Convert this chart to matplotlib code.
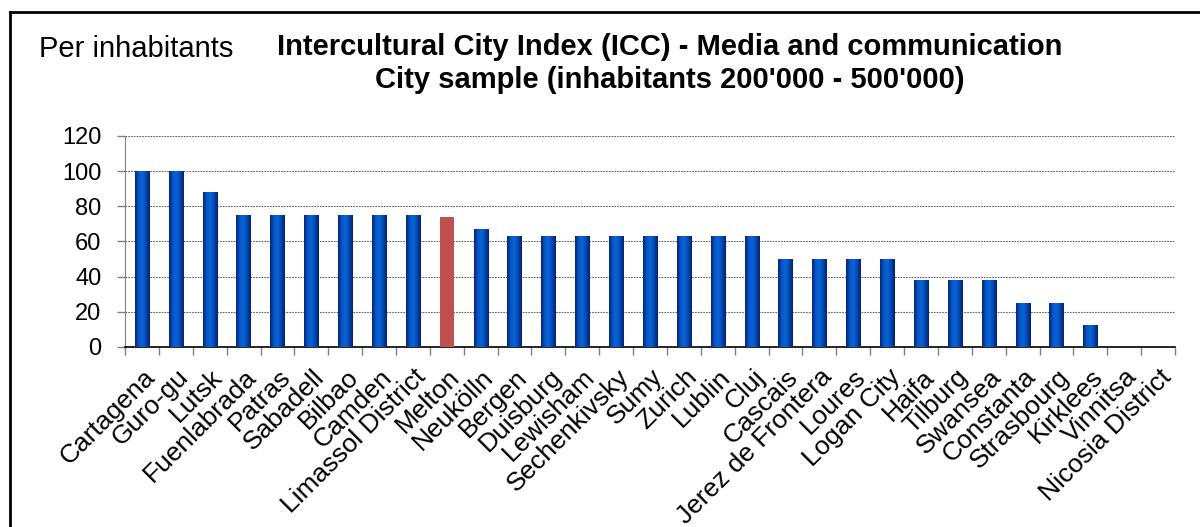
import numpy as np
import matplotlib
matplotlib.use("Agg")
import matplotlib.pyplot as plt
from matplotlib.colors import LinearSegmentedColormap
from matplotlib.lines import Line2D

plt.rcParams['font.family'] = ['Liberation Sans', 'DejaVu Sans']

cities = ["Cartagena", "Guro-gu", "Lutsk", "Fuenlabrada", "Patras", "Sabadell",
          "Bilbao", "Camden", "Limassol District", "Melton", "Neukölln", "Bergen",
          "Duisburg", "Lewisham", "Sechenkivsky", "Sumy", "Zurich", "Lublin", "Cluj",
          "Cascais", "Jerez de Frontera", "Loures", "Logan City", "Haifa", "Tilburg",
          "Swansea", "Constanta", "Strasbourg", "Kirklees", "Vinnitsa",
          "Nicosia District"]
scores = [100, 100, 88, 75, 75, 75, 75, 75, 75, 74, 67, 63, 63, 63, 63, 63, 63,
          63, 63, 50, 50, 50, 50, 38, 38, 38, 25, 25, 12.5, 0, 0]
highlight = "Melton"
y_ticks = [0, 20, 40, 60, 80, 100, 120]

title_text = ("Intercultural City Index (ICC) - Media and communication\n"
              "City sample (inhabitants 200'000 - 500'000)")
corner_text = "Per inhabitants"

fig = plt.figure(figsize=(12, 5.27), dpi=100)
ax = fig.add_axes([0.1042, 0.3416, 0.8750, 0.4004])

x = np.arange(len(cities))
bar_w = 0.42
bars = ax.bar(x, scores, width=bar_w, color="none", edgecolor="none", zorder=3)

# horizontal shading for the blue bars
shade = LinearSegmentedColormap.from_list(
    "shade", ["#0a2174", "#0457c6", "#0a64d6", "#0448b0", "#061f72"])
grad = np.linspace(0, 1, 64).reshape(1, -1)
for name, b in zip(cities, bars):
    h = b.get_height()
    if h <= 0:
        continue
    x0 = b.get_x()
    if name == highlight:
        b.set_facecolor("#c0504d")
        continue
    im = ax.imshow(grad, cmap=shade, aspect="auto", interpolation="bilinear",
                   extent=(x0, x0 + b.get_width(), 0, h), zorder=3)
    im.set_clip_path(b)

ax.set_xlim(-0.5, len(cities) - 0.5)
ax.set_ylim(0, 120)
ax.set_yticks(y_ticks)
ax.set_yticklabels([str(v) for v in y_ticks], fontsize=17)
ax.yaxis.grid(True, linestyle=(0, (1.5, 1)), color="#606060", linewidth=0.8, zorder=0)
ax.set_axisbelow(True)

# category labels under bars, boundary tick marks between them
ax.set_xticks(np.arange(-0.5, len(cities), 1.0))
ax.set_xticklabels([])
ax.tick_params(axis="x", direction="out", length=6, width=1, color="#808080")
ax.tick_params(axis="y", direction="out", length=6, width=1, color="#808080", pad=11)
for xi, name in zip(x, cities):
    ax.text(xi + 0.02, -10, name, rotation=45, ha="right", va="top",
            rotation_mode="anchor", fontsize=19, transform=ax.transData,
            clip_on=False)

for side in ("top", "right"):
    ax.spines[side].set_visible(False)
ax.spines["left"].set_color("#808080")
ax.spines["bottom"].set_color("#000000")
ax.spines["bottom"].set_linewidth(1.2)

fig.text(0.558, 0.879, title_text, ha="center", va="center", fontsize=21,
         fontweight="bold", linespacing=1.22)
fig.text(0.0325, 0.907, corner_text, ha="left", va="center", fontsize=21)

# outer chart frame (top and left edges)
fig.add_artist(Line2D([0.0085, 1.0], [0.977, 0.977], color="black", lw=2,
                      transform=fig.transFigure))
fig.add_artist(Line2D([0.0085, 0.0085], [0.0, 0.977], color="black", lw=2,
                      transform=fig.transFigure))

fig.savefig("out.png", dpi=100)
